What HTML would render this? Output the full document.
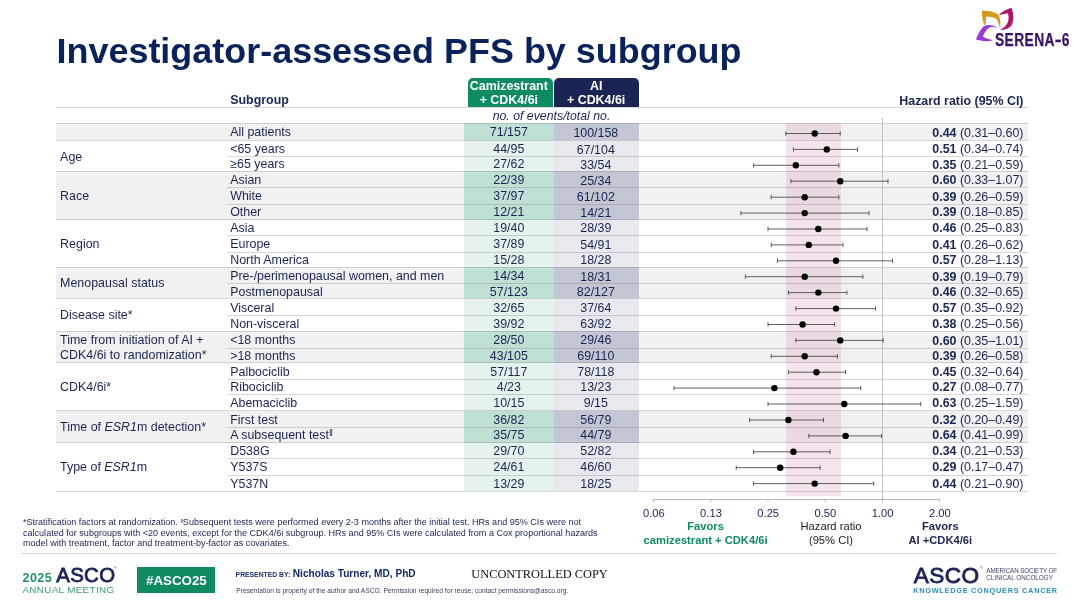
<!DOCTYPE html>
<html lang="en"><head><meta charset="utf-8"><title>Investigator-assessed PFS by subgroup</title>
<style>
html,body{margin:0;padding:0;background:#fff;}
body{width:1080px;height:607px;position:relative;overflow:hidden;font-family:"Liberation Sans",sans-serif;color:#1a2552;}
.abs,.t,.bg,.ln{position:absolute;}
.t{white-space:nowrap;font-size:12.43px;line-height:14px;}
.c{text-align:center;}
.r{text-align:right;}
b{font-weight:bold;}
sup{font-size:78%;vertical-align:baseline;position:relative;top:-0.36em;line-height:0;}
h1{position:absolute;left:56.5px;top:30.5px;margin:0;font-size:35.95px;line-height:40px;font-weight:bold;color:#09225a;white-space:nowrap;letter-spacing:0;}
svg{position:absolute;left:0;top:0;}
</style></head><body>

<h1>Investigator-assessed PFS by subgroup</h1>
<div class="bg" style="left:55.5px;top:123px;width:972.0px;height:17px;background:#f1f1f1"></div>
<div class="bg" style="left:464.2px;top:123px;width:89.90px;height:17px;background:#bfe0d5"></div>
<div class="bg" style="left:553.5px;top:123px;width:85.29999999999995px;height:17px;background:#c3c7d3"></div>
<div class="bg" style="left:464.2px;top:140px;width:89.90px;height:31px;background:#e6f2ee"></div>
<div class="bg" style="left:553.5px;top:140px;width:85.29999999999995px;height:31px;background:#e8e9ee"></div>
<div class="bg" style="left:55.5px;top:171px;width:972.0px;height:48.5px;background:#f1f1f1"></div>
<div class="bg" style="left:464.2px;top:171px;width:89.90px;height:48.5px;background:#bfe0d5"></div>
<div class="bg" style="left:553.5px;top:171px;width:85.29999999999995px;height:48.5px;background:#c3c7d3"></div>
<div class="bg" style="left:464.2px;top:219.5px;width:89.90px;height:47.5px;background:#e6f2ee"></div>
<div class="bg" style="left:553.5px;top:219.5px;width:85.29999999999995px;height:47.5px;background:#e8e9ee"></div>
<div class="bg" style="left:55.5px;top:267px;width:972.0px;height:31px;background:#f1f1f1"></div>
<div class="bg" style="left:464.2px;top:267px;width:89.90px;height:31px;background:#bfe0d5"></div>
<div class="bg" style="left:553.5px;top:267px;width:85.29999999999995px;height:31px;background:#c3c7d3"></div>
<div class="bg" style="left:464.2px;top:298px;width:89.90px;height:33px;background:#e6f2ee"></div>
<div class="bg" style="left:553.5px;top:298px;width:85.29999999999995px;height:33px;background:#e8e9ee"></div>
<div class="bg" style="left:55.5px;top:331px;width:972.0px;height:31.5px;background:#f1f1f1"></div>
<div class="bg" style="left:464.2px;top:331px;width:89.90px;height:31.5px;background:#bfe0d5"></div>
<div class="bg" style="left:553.5px;top:331px;width:85.29999999999995px;height:31.5px;background:#c3c7d3"></div>
<div class="bg" style="left:464.2px;top:362.5px;width:89.90px;height:48.0px;background:#e6f2ee"></div>
<div class="bg" style="left:553.5px;top:362.5px;width:85.29999999999995px;height:48.0px;background:#e8e9ee"></div>
<div class="bg" style="left:55.5px;top:410.5px;width:972.0px;height:32.0px;background:#f1f1f1"></div>
<div class="bg" style="left:464.2px;top:410.5px;width:89.90px;height:32.0px;background:#bfe0d5"></div>
<div class="bg" style="left:553.5px;top:410.5px;width:85.29999999999995px;height:32.0px;background:#c3c7d3"></div>
<div class="bg" style="left:464.2px;top:442.5px;width:89.90px;height:48.5px;background:#e6f2ee"></div>
<div class="bg" style="left:553.5px;top:442.5px;width:85.29999999999995px;height:48.5px;background:#e8e9ee"></div>
<div class="bg" style="left:467.6px;top:78.2px;width:85.4px;height:28.8px;background:#0f8a63;border-radius:5px 5px 0 0"></div>
<div class="bg" style="left:553.5px;top:78.2px;width:85.3px;height:28.8px;background:#1b2554;border-radius:5px 5px 0 0"></div>
<div class="bg" style="left:786.0px;top:123px;width:54.6px;height:372.5px;background:rgba(205,130,175,0.22)"></div>
<div class="ln" style="left:55.5px;top:106.5px;width:972.0px;height:1px;background:rgba(90,90,90,0.235)"></div>
<div class="ln" style="left:55.5px;top:122.5px;width:972.0px;height:1px;background:rgba(90,90,90,0.235)"></div>
<div class="ln" style="left:55.5px;top:139.5px;width:972.0px;height:1px;background:rgba(90,90,90,0.235)"></div>
<div class="ln" style="left:226.5px;top:155.5px;width:801.0px;height:1px;background:rgba(90,90,90,0.235)"></div>
<div class="ln" style="left:55.5px;top:170.5px;width:972.0px;height:1px;background:rgba(90,90,90,0.235)"></div>
<div class="ln" style="left:226.5px;top:186.5px;width:801.0px;height:1px;background:rgba(90,90,90,0.235)"></div>
<div class="ln" style="left:226.5px;top:203.5px;width:801.0px;height:1px;background:rgba(90,90,90,0.235)"></div>
<div class="ln" style="left:55.5px;top:219.0px;width:972.0px;height:1px;background:rgba(90,90,90,0.235)"></div>
<div class="ln" style="left:226.5px;top:235.0px;width:801.0px;height:1px;background:rgba(90,90,90,0.235)"></div>
<div class="ln" style="left:226.5px;top:251.5px;width:801.0px;height:1px;background:rgba(90,90,90,0.235)"></div>
<div class="ln" style="left:55.5px;top:266.5px;width:972.0px;height:1px;background:rgba(90,90,90,0.235)"></div>
<div class="ln" style="left:226.5px;top:282.5px;width:801.0px;height:1px;background:rgba(90,90,90,0.235)"></div>
<div class="ln" style="left:55.5px;top:297.5px;width:972.0px;height:1px;background:rgba(90,90,90,0.235)"></div>
<div class="ln" style="left:226.5px;top:314.5px;width:801.0px;height:1px;background:rgba(90,90,90,0.235)"></div>
<div class="ln" style="left:55.5px;top:330.5px;width:972.0px;height:1px;background:rgba(90,90,90,0.235)"></div>
<div class="ln" style="left:226.5px;top:347.5px;width:801.0px;height:1px;background:rgba(90,90,90,0.235)"></div>
<div class="ln" style="left:55.5px;top:362.0px;width:972.0px;height:1px;background:rgba(90,90,90,0.235)"></div>
<div class="ln" style="left:226.5px;top:378.5px;width:801.0px;height:1px;background:rgba(90,90,90,0.235)"></div>
<div class="ln" style="left:226.5px;top:393.5px;width:801.0px;height:1px;background:rgba(90,90,90,0.235)"></div>
<div class="ln" style="left:55.5px;top:410.0px;width:972.0px;height:1px;background:rgba(90,90,90,0.235)"></div>
<div class="ln" style="left:226.5px;top:427.0px;width:801.0px;height:1px;background:rgba(90,90,90,0.235)"></div>
<div class="ln" style="left:55.5px;top:442.0px;width:972.0px;height:1px;background:rgba(90,90,90,0.235)"></div>
<div class="ln" style="left:226.5px;top:457.5px;width:801.0px;height:1px;background:rgba(90,90,90,0.235)"></div>
<div class="ln" style="left:226.5px;top:474.5px;width:801.0px;height:1px;background:rgba(90,90,90,0.235)"></div>
<div class="ln" style="left:55.5px;top:490.5px;width:972.0px;height:1px;background:rgba(90,90,90,0.235)"></div>
<div class="ln" style="left:881.9px;top:118px;width:1px;height:381.5px;background:#c2c2c2"></div>
<div class="t c" style="left:464.2px;top:79px;width:89.3px;color:#fff;font-weight:bold;line-height:14px">Camizestrant<br>+ CDK4/6i</div>
<div class="t c" style="left:553.5px;top:79px;width:85.3px;color:#fff;font-weight:bold;line-height:14px">AI<br>+ CDK4/6i</div>
<div class="t" style="left:230.2px;top:93.1px;font-weight:bold">Subgroup</div>
<div class="t r" style="left:823.5px;width:200px;top:94.1px;font-weight:bold">Hazard ratio (95% CI)</div>
<div class="t c" style="left:464.5px;width:174px;top:108.5px;font-size:12.32px;font-style:italic">no. of events/total no.</div>
<div class="t" style="left:230.2px;top:125.09px">All patients</div>
<div class="t c" style="left:464.2px;width:89.30px;top:125.09px">71/157</div>
<div class="t c" style="left:553.2px;width:85.30px;top:126.09px">100/158</div>
<div class="t r" style="left:823.5px;width:200px;top:126.09px"><b>0.44</b> (0.31–0.60)</div>
<div class="t" style="left:230.2px;top:142.09px">&lt;65 years</div>
<div class="t c" style="left:464.2px;width:89.30px;top:142.09px">44/95</div>
<div class="t c" style="left:553.2px;width:85.30px;top:143.09px">67/104</div>
<div class="t r" style="left:823.5px;width:200px;top:142.09px"><b>0.51</b> (0.34–0.74)</div>
<div class="t" style="left:230.2px;top:157.09px">≥65 years</div>
<div class="t c" style="left:464.2px;width:89.30px;top:157.09px">27/62</div>
<div class="t c" style="left:553.2px;width:85.30px;top:158.09px">33/54</div>
<div class="t r" style="left:823.5px;width:200px;top:158.09px"><b>0.35</b> (0.21–0.59)</div>
<div class="t" style="left:230.2px;top:173.09px">Asian</div>
<div class="t c" style="left:464.2px;width:89.30px;top:173.09px">22/39</div>
<div class="t c" style="left:553.2px;width:85.30px;top:174.09px">25/34</div>
<div class="t r" style="left:823.5px;width:200px;top:173.09px"><b>0.60</b> (0.33–1.07)</div>
<div class="t" style="left:230.2px;top:189.09px">White</div>
<div class="t c" style="left:464.2px;width:89.30px;top:189.09px">37/97</div>
<div class="t c" style="left:553.2px;width:85.30px;top:190.09px">61/102</div>
<div class="t r" style="left:823.5px;width:200px;top:190.09px"><b>0.39</b> (0.26–0.59)</div>
<div class="t" style="left:230.2px;top:205.09px">Other</div>
<div class="t c" style="left:464.2px;width:89.30px;top:205.09px">12/21</div>
<div class="t c" style="left:553.2px;width:85.30px;top:206.09px">14/21</div>
<div class="t r" style="left:823.5px;width:200px;top:205.09px"><b>0.39</b> (0.18–0.85)</div>
<div class="t" style="left:230.2px;top:221.09px">Asia</div>
<div class="t c" style="left:464.2px;width:89.30px;top:221.09px">19/40</div>
<div class="t c" style="left:553.2px;width:85.30px;top:221.09px">28/39</div>
<div class="t r" style="left:823.5px;width:200px;top:221.09px"><b>0.46</b> (0.25–0.83)</div>
<div class="t" style="left:230.2px;top:237.09px">Europe</div>
<div class="t c" style="left:464.2px;width:89.30px;top:237.09px">37/89</div>
<div class="t c" style="left:553.2px;width:85.30px;top:238.09px">54/91</div>
<div class="t r" style="left:823.5px;width:200px;top:238.09px"><b>0.41</b> (0.26–0.62)</div>
<div class="t" style="left:230.2px;top:253.09px">North America</div>
<div class="t c" style="left:464.2px;width:89.30px;top:253.09px">15/28</div>
<div class="t c" style="left:553.2px;width:85.30px;top:253.09px">18/28</div>
<div class="t r" style="left:823.5px;width:200px;top:253.09px"><b>0.57</b> (0.28–1.13)</div>
<div class="t" style="left:230.2px;top:269.09px">Pre-/perimenopausal women, and men</div>
<div class="t c" style="left:464.2px;width:89.30px;top:269.09px">14/34</div>
<div class="t c" style="left:553.2px;width:85.30px;top:270.09px">18/31</div>
<div class="t r" style="left:823.5px;width:200px;top:270.09px"><b>0.39</b> (0.19–0.79)</div>
<div class="t" style="left:230.2px;top:285.09px">Postmenopausal</div>
<div class="t c" style="left:464.2px;width:89.30px;top:285.09px">57/123</div>
<div class="t c" style="left:553.2px;width:85.30px;top:285.09px">82/127</div>
<div class="t r" style="left:823.5px;width:200px;top:285.09px"><b>0.46</b> (0.32–0.65)</div>
<div class="t" style="left:230.2px;top:301.09px">Visceral</div>
<div class="t c" style="left:464.2px;width:89.30px;top:301.09px">32/65</div>
<div class="t c" style="left:553.2px;width:85.30px;top:301.09px">37/64</div>
<div class="t r" style="left:823.5px;width:200px;top:301.09px"><b>0.57</b> (0.35–0.92)</div>
<div class="t" style="left:230.2px;top:317.09px">Non-visceral</div>
<div class="t c" style="left:464.2px;width:89.30px;top:317.09px">39/92</div>
<div class="t c" style="left:553.2px;width:85.30px;top:317.09px">63/92</div>
<div class="t r" style="left:823.5px;width:200px;top:317.09px"><b>0.38</b> (0.25–0.56)</div>
<div class="t" style="left:230.2px;top:333.09px">&lt;18 months</div>
<div class="t c" style="left:464.2px;width:89.30px;top:333.09px">28/50</div>
<div class="t c" style="left:553.2px;width:85.30px;top:333.09px">29/46</div>
<div class="t r" style="left:823.5px;width:200px;top:334.09px"><b>0.60</b> (0.35–1.01)</div>
<div class="t" style="left:230.2px;top:349.09px">&gt;18 months</div>
<div class="t c" style="left:464.2px;width:89.30px;top:349.09px">43/105</div>
<div class="t c" style="left:553.2px;width:85.30px;top:349.09px">69/110</div>
<div class="t r" style="left:823.5px;width:200px;top:349.09px"><b>0.39</b> (0.26–0.58)</div>
<div class="t" style="left:230.2px;top:365.09px">Palbociclib</div>
<div class="t c" style="left:464.2px;width:89.30px;top:365.09px">57/117</div>
<div class="t c" style="left:553.2px;width:85.30px;top:365.09px">78/118</div>
<div class="t r" style="left:823.5px;width:200px;top:365.09px"><b>0.45</b> (0.32–0.64)</div>
<div class="t" style="left:230.2px;top:380.09px">Ribociclib</div>
<div class="t c" style="left:464.2px;width:89.30px;top:380.09px">4/23</div>
<div class="t c" style="left:553.2px;width:85.30px;top:380.09px">13/23</div>
<div class="t r" style="left:823.5px;width:200px;top:380.09px"><b>0.27</b> (0.08–0.77)</div>
<div class="t" style="left:230.2px;top:396.09px">Abemaciclib</div>
<div class="t c" style="left:464.2px;width:89.30px;top:396.09px">10/15</div>
<div class="t c" style="left:553.2px;width:85.30px;top:396.09px">9/15</div>
<div class="t r" style="left:823.5px;width:200px;top:396.09px"><b>0.63</b> (0.25–1.59)</div>
<div class="t" style="left:230.2px;top:413.09px">First test</div>
<div class="t c" style="left:464.2px;width:89.30px;top:413.09px">36/82</div>
<div class="t c" style="left:553.2px;width:85.30px;top:413.09px">56/79</div>
<div class="t r" style="left:823.5px;width:200px;top:413.09px"><b>0.32</b> (0.20–0.49)</div>
<div class="t" style="left:230.2px;top:428.09px">A subsequent test<sup>ǁ</sup></div>
<div class="t c" style="left:464.2px;width:89.30px;top:428.09px">35/75</div>
<div class="t c" style="left:553.2px;width:85.30px;top:428.09px">44/79</div>
<div class="t r" style="left:823.5px;width:200px;top:428.09px"><b>0.64</b> (0.41–0.99)</div>
<div class="t" style="left:230.2px;top:444.09px">D538G</div>
<div class="t c" style="left:464.2px;width:89.30px;top:444.09px">29/70</div>
<div class="t c" style="left:553.2px;width:85.30px;top:444.09px">52/82</div>
<div class="t r" style="left:823.5px;width:200px;top:444.09px"><b>0.34</b> (0.21–0.53)</div>
<div class="t" style="left:230.2px;top:460.09px">Y537S</div>
<div class="t c" style="left:464.2px;width:89.30px;top:460.09px">24/61</div>
<div class="t c" style="left:553.2px;width:85.30px;top:460.09px">46/60</div>
<div class="t r" style="left:823.5px;width:200px;top:460.09px"><b>0.29</b> (0.17–0.47)</div>
<div class="t" style="left:230.2px;top:477.09px">Y537N</div>
<div class="t c" style="left:464.2px;width:89.30px;top:477.09px">13/29</div>
<div class="t c" style="left:553.2px;width:85.30px;top:477.09px">18/25</div>
<div class="t r" style="left:823.5px;width:200px;top:477.09px"><b>0.44</b> (0.21–0.90)</div>
<div class="t" style="left:60.1px;top:150.09px">Age</div>
<div class="t" style="left:60.1px;top:189.09px">Race</div>
<div class="t" style="left:60.1px;top:237.09px">Region</div>
<div class="t" style="left:60.1px;top:276.09px">Menopausal status</div>
<div class="t" style="left:60.1px;top:308.09px">Disease site*</div>
<div class="t" style="left:60.1px;top:333.09px">Time from initiation of AI +</div>
<div class="t" style="left:60.1px;top:348.09px">CDK4/6i to randomization*</div>
<div class="t" style="left:60.1px;top:380.09px">CDK4/6i*</div>
<div class="t" style="left:60.1px;top:420.09px">Time of <i>ESR1</i>m detection*</div>
<div class="t" style="left:60.1px;top:460.09px">Type of <i>ESR1</i>m</div>
<svg width="1080" height="607" viewBox="0 0 1080 607">
<path d="M785.8 133.5H840.2M785.8 131.3v4.4M840.2 131.3v4.4" stroke="#3a3a3a" stroke-width="0.8" fill="none"/>
<circle cx="814.7" cy="133.5" r="3.2" fill="#000"/>
<path d="M793.4 149.4H857.6M793.4 147.2v4.4M857.6 147.2v4.4" stroke="#3a3a3a" stroke-width="0.8" fill="none"/>
<circle cx="826.8" cy="149.4" r="3.2" fill="#000"/>
<path d="M753.6 165.3H838.9M753.6 163.1v4.4M838.9 163.1v4.4" stroke="#3a3a3a" stroke-width="0.8" fill="none"/>
<circle cx="795.8" cy="165.3" r="3.2" fill="#000"/>
<path d="M790.9 181.2H888.0M790.9 179.0v4.4M888.0 179.0v4.4" stroke="#3a3a3a" stroke-width="0.8" fill="none"/>
<circle cx="840.2" cy="181.2" r="3.2" fill="#000"/>
<path d="M771.2 197.2H838.9M771.2 195.0v4.4M838.9 195.0v4.4" stroke="#3a3a3a" stroke-width="0.8" fill="none"/>
<circle cx="804.7" cy="197.2" r="3.2" fill="#000"/>
<path d="M740.9 213.1H869.0M740.9 210.9v4.4M869.0 210.9v4.4" stroke="#3a3a3a" stroke-width="0.8" fill="none"/>
<circle cx="804.7" cy="213.1" r="3.2" fill="#000"/>
<path d="M768.0 229.0H867.0M768.0 226.8v4.4M867.0 226.8v4.4" stroke="#3a3a3a" stroke-width="0.8" fill="none"/>
<circle cx="818.3" cy="229.0" r="3.2" fill="#000"/>
<path d="M771.2 244.9H843.0M771.2 242.7v4.4M843.0 242.7v4.4" stroke="#3a3a3a" stroke-width="0.8" fill="none"/>
<circle cx="808.8" cy="244.9" r="3.2" fill="#000"/>
<path d="M777.4 260.8H892.5M777.4 258.6v4.4M892.5 258.6v4.4" stroke="#3a3a3a" stroke-width="0.8" fill="none"/>
<circle cx="836.0" cy="260.8" r="3.2" fill="#000"/>
<path d="M745.4 276.7H862.9M745.4 274.5v4.4M862.9 274.5v4.4" stroke="#3a3a3a" stroke-width="0.8" fill="none"/>
<circle cx="804.7" cy="276.7" r="3.2" fill="#000"/>
<path d="M788.4 292.6H846.9M788.4 290.4v4.4M846.9 290.4v4.4" stroke="#3a3a3a" stroke-width="0.8" fill="none"/>
<circle cx="818.3" cy="292.6" r="3.2" fill="#000"/>
<path d="M795.8 308.6H875.5M795.8 306.4v4.4M875.5 306.4v4.4" stroke="#3a3a3a" stroke-width="0.8" fill="none"/>
<circle cx="836.0" cy="308.6" r="3.2" fill="#000"/>
<path d="M768.0 324.5H834.6M768.0 322.3v4.4M834.6 322.3v4.4" stroke="#3a3a3a" stroke-width="0.8" fill="none"/>
<circle cx="802.6" cy="324.5" r="3.2" fill="#000"/>
<path d="M795.8 340.4H883.2M795.8 338.2v4.4M883.2 338.2v4.4" stroke="#3a3a3a" stroke-width="0.8" fill="none"/>
<circle cx="840.2" cy="340.4" r="3.2" fill="#000"/>
<path d="M771.2 356.3H837.4M771.2 354.1v4.4M837.4 354.1v4.4" stroke="#3a3a3a" stroke-width="0.8" fill="none"/>
<circle cx="804.7" cy="356.3" r="3.2" fill="#000"/>
<path d="M788.4 372.2H845.6M788.4 370.0v4.4M845.6 370.0v4.4" stroke="#3a3a3a" stroke-width="0.8" fill="none"/>
<circle cx="816.5" cy="372.2" r="3.2" fill="#000"/>
<path d="M674.0 388.1H860.8M674.0 385.9v4.4M860.8 385.9v4.4" stroke="#3a3a3a" stroke-width="0.8" fill="none"/>
<circle cx="774.4" cy="388.1" r="3.2" fill="#000"/>
<path d="M768.0 404.0H920.7M768.0 401.8v4.4M920.7 401.8v4.4" stroke="#3a3a3a" stroke-width="0.8" fill="none"/>
<circle cx="844.3" cy="404.0" r="3.2" fill="#000"/>
<path d="M749.6 420.0H823.5M749.6 417.8v4.4M823.5 417.8v4.4" stroke="#3a3a3a" stroke-width="0.8" fill="none"/>
<circle cx="788.4" cy="420.0" r="3.2" fill="#000"/>
<path d="M808.8 435.9H881.6M808.8 433.7v4.4M881.6 433.7v4.4" stroke="#3a3a3a" stroke-width="0.8" fill="none"/>
<circle cx="845.6" cy="435.9" r="3.2" fill="#000"/>
<path d="M753.6 451.8H830.0M753.6 449.6v4.4M830.0 449.6v4.4" stroke="#3a3a3a" stroke-width="0.8" fill="none"/>
<circle cx="793.4" cy="451.8" r="3.2" fill="#000"/>
<path d="M736.2 467.7H820.1M736.2 465.5v4.4M820.1 465.5v4.4" stroke="#3a3a3a" stroke-width="0.8" fill="none"/>
<circle cx="780.2" cy="467.7" r="3.2" fill="#000"/>
<path d="M753.6 483.6H873.7M753.6 481.4v4.4M873.7 481.4v4.4" stroke="#3a3a3a" stroke-width="0.8" fill="none"/>
<circle cx="814.7" cy="483.6" r="3.2" fill="#000"/>
<path d="M653.5 499.5H939.6M653.6 499.5v2.5M710.8 499.5v2.5M768.0 499.5v2.5M825.2 499.5v2.5M882.4 499.5v2.5M939.6 499.5v2.5" stroke="#a6a6a6" stroke-width="0.8" fill="none"/>
</svg>
<div class="t c" style="left:623.8px;width:60px;top:506px;font-size:11.2px">0.06</div>
<div class="t c" style="left:681.0px;width:60px;top:506px;font-size:11.2px">0.13</div>
<div class="t c" style="left:738.2px;width:60px;top:506px;font-size:11.2px">0.25</div>
<div class="t c" style="left:795.4px;width:60px;top:506px;font-size:11.2px">0.50</div>
<div class="t c" style="left:852.6px;width:60px;top:506px;font-size:11.2px">1.00</div>
<div class="t c" style="left:909.8px;width:60px;top:506px;font-size:11.2px">2.00</div>
<div class="t c" style="left:605.6px;width:200px;top:519px;font-size:11.2px;line-height:14px;font-weight:bold;color:#0f8a63">Favors<br>camizestrant + CDK4/6i</div>
<div class="t c" style="left:731px;width:200px;top:519px;font-size:11.2px;line-height:14px;color:#222">Hazard ratio<br>(95% CI)</div>
<div class="t c" style="left:840.3px;width:200px;top:519px;font-size:11.2px;line-height:14px;font-weight:bold">Favors<br>AI +CDK4/6i</div>
<div class="t" style="left:23px;top:516.76px;font-size:9.06px;line-height:11px">*Stratification factors at randomization. <sup style="font-size:66%">ǁ</sup>Subsequent tests were performed every 2-3 months after the initial test. HRs and 95% CIs were not</div>
<div class="t" style="left:23px;top:527.76px;font-size:9.06px;line-height:11px">calculated for subgroups with &lt;20 events, except for the CDK4/6i subgroup. HRs and 95% CIs were calculated from a Cox proportional hazards</div>
<div class="t" style="left:23px;top:537.76px;font-size:9.06px;line-height:11px">model with treatment, factor and treatment-by-factor as covariates.</div>
<div class="ln" style="left:22px;top:553.0px;width:1035px;height:1px;background:#d6d6db"></div>
<div class="t" style="left:22.6px;top:571.17px;font-size:12.6px;line-height:15.12px;font-weight:bold;color:#22906a;letter-spacing:0.35px">2025</div>
<div class="t" style="left:56.2px;top:562.89px;font-size:20.4px;line-height:24.48px;color:#1b2454;letter-spacing:0.35px;-webkit-text-stroke:0.8px #1b2454">ASCO</div>
<div class="t" style="left:22.4px;top:584.02px;font-size:9.8px;line-height:11.76px;color:#3a9a79;letter-spacing:0.38px">ANNUAL MEETING</div>
<div class="abs" style="left:114.3px;top:566.8px;font-size:3px;line-height:3px;color:#1b2454">®</div>
<div class="bg" style="left:137.4px;top:567.3px;width:77.8px;height:25.5px;background:#0f8a63"></div>
<div class="t" style="left:146.1px;top:572.81px;font-size:13.3px;line-height:15.96px;font-weight:bold;color:#fff">#ASCO25</div>
<div class="t" style="left:235.6px;top:570.61px;font-size:6.75px;line-height:8.1px;font-weight:bold;color:#1a2f6b;letter-spacing:0.03px">PRESENTED BY:</div>
<div class="t" style="left:292.8px;top:568.12px;font-size:10.12px;line-height:12.14px;font-weight:bold;color:#142a66">Nicholas Turner, MD, PhD</div>
<div class="t" style="left:236.3px;top:586.96px;font-size:6.7px;line-height:8.04px;color:#3a4262">Presentation is property of the author and ASCO. Permission required for reuse; contact permissions@asco.org.</div>
<div class="t" style="left:471.3px;top:566.6px;font-size:12.38px;line-height:14px;font-family:'Liberation Serif',serif;color:#111">UNCONTROLLED COPY</div>
<div class="t" style="left:913.8px;top:561.61px;font-size:22.6px;line-height:27.12px;color:#1b2454;letter-spacing:0.45px;-webkit-text-stroke:0.85px #1b2454">ASCO</div>
<div class="abs" style="left:980.2px;top:566.6px;font-size:3px;line-height:3px;color:#1b2454">®</div>
<div class="t" style="left:986.3px;top:567.14px;font-size:6.3px;line-height:7.56px;color:#3f4769;letter-spacing:-0.12px">AMERICAN SOCIETY OF</div>
<div class="t" style="left:986.3px;top:574.04px;font-size:6.3px;line-height:7.56px;color:#3f4769;letter-spacing:0.02px">CLINICAL ONCOLOGY</div>
<div class="t" style="left:913.2px;top:587.39px;font-size:7.3px;line-height:8.76px;font-weight:bold;color:#2b8fb6;letter-spacing:0.76px">KNOWLEDGE CONQUERS CANCER</div>
<svg width="1080" height="607" viewBox="0 0 1080 607">
<g transform="translate(970 4) scale(0.06916)">
<path d="M170,97 C250,100 340,100 400,150 C440,200 450,290 430,350 C420,290 405,235 370,205 C330,185 280,182 235,180 C228,220 226,270 225,300 L205,305 C185,250 172,170 170,97 Z" fill="#d8981d"/>
<path d="M600,55 C625,120 645,220 600,310 C560,360 490,378 430,375 C490,350 540,300 555,235 C562,200 556,165 548,135 C500,142 450,155 410,165 C460,110 530,75 600,55 Z" fill="#ae176a"/>
<path d="M400,350 C340,300 260,290 200,320 C150,360 110,450 85,515 C150,535 240,550 335,525 C280,512 220,495 185,470 C205,420 235,365 290,335 C330,325 370,335 400,350 Z" fill="#9a3dd2"/>
</g>
</svg>
<div class="t" style="left:995.1px;top:30.1px;font-size:18.1px;line-height:20px;font-weight:bold;color:#3b1463;transform:scaleX(0.764);transform-origin:0 0;letter-spacing:0.5px;-webkit-text-stroke:0.25px #3b1463">SERENA<span style="display:inline-block;transform:scaleX(1.5);margin:0 1.4px 0 1.2px">-</span>6</div>
</body></html>
